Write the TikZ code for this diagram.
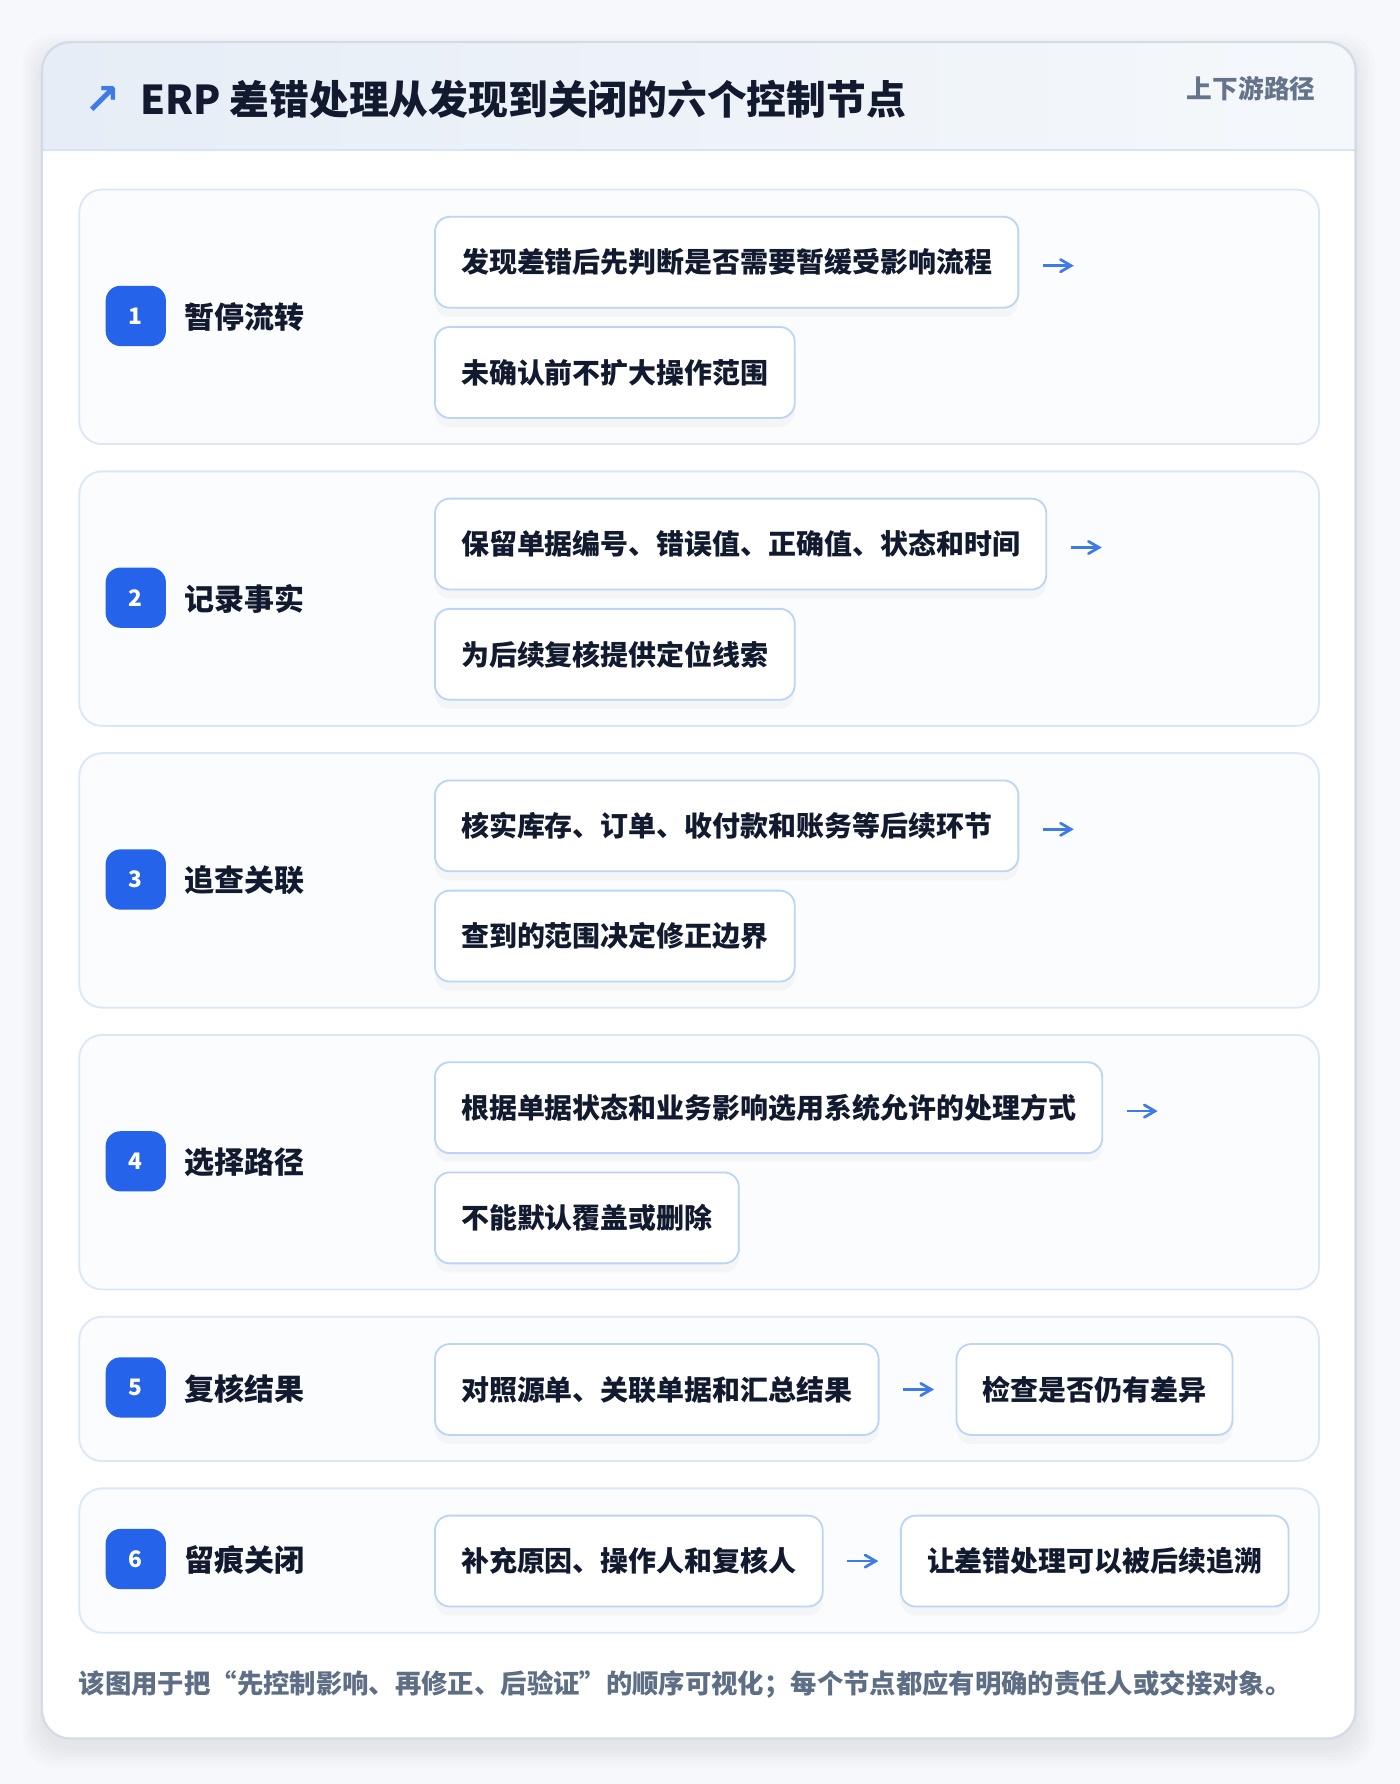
\documentclass[tikz,border=0pt]{standalone}
\usepackage{fontspec}
\setmainfont{Noto Sans CJK SC}
\newfontfamily\symfont{DejaVu Sans}
\usepackage{tikz}
\usetikzlibrary{arrows,positioning,calc,shadows}
\definecolor{pagebg}{HTML}{F6F8FB}
\definecolor{cardline}{HTML}{D3DBE6}
\definecolor{headleft}{HTML}{E6EDF6}
\definecolor{headright}{HTML}{F5F8FB}
\definecolor{headline}{HTML}{D6E4F7}
\definecolor{panelfill}{HTML}{FAFCFE}
\definecolor{panelline}{HTML}{DAE7F8}
\definecolor{boxline}{HTML}{BCD5F4}
\definecolor{badgeblue}{HTML}{2563EB}
\definecolor{arrowblue}{HTML}{3F7BE6}
\definecolor{ink}{HTML}{111A2E}
\definecolor{muted}{HTML}{64748B}
\definecolor{footnote}{HTML}{5E6E85}
\tikzset{
 >=angle 60,
 panel/.style={draw=panelline, fill=panelfill, rounded corners=10pt, line width=0.8pt,
   anchor=north west, minimum width=545.5pt, inner sep=0pt},
 badge/.style={fill=badgeblue, rounded corners=6.5pt, minimum size=26.5pt, inner sep=0pt,
   text=white, font=\bfseries\fontsize{10}{10}\selectfont},
 steplabel/.style={anchor=west, inner sep=0pt, text=ink, font=\bfseries\fontsize{13.2}{16}\selectfont},
 stepbox/.style={draw=boxline, fill=white, rounded corners=6.5pt, line width=0.8pt,
   anchor=north west, minimum height=40pt, inner xsep=11.5pt, inner ysep=0pt,
   text=ink, font=\bfseries\fontsize{12.3}{15}\selectfont,
   drop shadow={opacity=0.05, shadow xshift=0pt, shadow yshift=-4pt}},
 flowarrow/.style={->, draw=arrowblue, line width=1.2pt}
}
\begin{document}
\begin{tikzpicture}[x=0.5pt,y=-0.5pt]
\useasboundingbox (0,0) rectangle (1232,1570);
\fill[pagebg] (0,0) rectangle (1232,1570);

% card with soft shadow
\foreach \s in {2,5,8,11,14,17}
  \fill[black,opacity=0.012,rounded corners=14pt] (37-\s,37-\s+10) rectangle (1193+\s,1530+\s+8);
\path[fill=white,rounded corners=12.5pt] (37,37) rectangle (1193,1530);
\begin{scope}
 \clip[rounded corners=12.5pt] (37,37) rectangle (1193,1530);
 \fill[left color=headleft,right color=headright] (37,37) rectangle (1193,132);
\end{scope}
\draw[headline,line width=1pt] (37,132) -- (1193,132);
\draw[cardline,line width=1pt,rounded corners=12.5pt] (37,37) rectangle (1193,1530);

% header
\path (90,88) node[name=titlemark,text=arrowblue,font=\symfont\bfseries\fontsize{19}{19}\selectfont] {↗};
\path (123,87) node[name=title,anchor=west,inner sep=0pt,text=ink,font=\bfseries\fontsize{17.5}{21}\selectfont] {ERP 差错处理从发现到关闭的六个控制节点};
\path (1158,78) node[name=scope,anchor=east,inner sep=0pt,text=muted,font=\bfseries\fontsize{11.3}{14}\selectfont] {上下游路径};

% step 1
\path (69,166) node[panel,minimum height=112pt,name=p1] {};
\path (119.5,278) node[badge,name=b1] {1};
\path (162,279) node[steplabel,name=l1] {暂停流转};
\path (382,190) node[stepbox,name=r1a] {发现差错后先判断是否需要暂缓受影响流程};
\path (382,287) node[stepbox,name=r1b] {未确认前不扩大操作范围};
\path (r1a.east) ++(21,3) coordinate (r1s) ++(27,0) coordinate (r1e);
\path (r1s) edge[flowarrow] (r1e);

% step 2
\path (69,414) node[panel,minimum height=112pt,name=p2] {};
\path (119.5,526) node[badge,name=b2] {2};
\path (162,527) node[steplabel,name=l2] {记录事实};
\path (382,438) node[stepbox,name=r2a] {保留单据编号、错误值、正确值、状态和时间};
\path (382,535) node[stepbox,name=r2b] {为后续复核提供定位线索};
\path (r2a.east) ++(21,3) coordinate (r2s) ++(27,0) coordinate (r2e);
\path (r2s) edge[flowarrow] (r2e);

% step 3
\path (69,662) node[panel,minimum height=112pt,name=p3] {};
\path (119.5,774) node[badge,name=b3] {3};
\path (162,775) node[steplabel,name=l3] {追查关联};
\path (382,686) node[stepbox,name=r3a] {核实库存、订单、收付款和账务等后续环节};
\path (382,783) node[stepbox,name=r3b] {查到的范围决定修正边界};
\path (r3a.east) ++(21,3) coordinate (r3s) ++(27,0) coordinate (r3e);
\path (r3s) edge[flowarrow] (r3e);

% step 4
\path (69,910) node[panel,minimum height=112pt,name=p4] {};
\path (119.5,1022) node[badge,name=b4] {4};
\path (162,1023) node[steplabel,name=l4] {选择路径};
\path (382,934) node[stepbox,name=r4a] {根据单据状态和业务影响选用系统允许的处理方式};
\path (382,1031) node[stepbox,name=r4b] {不能默认覆盖或删除};
\path (r4a.east) ++(21,3) coordinate (r4s) ++(27,0) coordinate (r4e);
\path (r4s) edge[flowarrow] (r4e);

% step 5
\path (69,1158) node[panel,minimum height=63.5pt,name=p5] {};
\path (119.5,1221) node[badge,name=b5] {5};
\path (162,1222) node[steplabel,name=l5] {复核结果};
\path (382,1182) node[stepbox,name=r5a] {对照源单、关联单据和汇总结果};
\path (841,1182) node[stepbox,name=r5b] {检查是否仍有差异};
\path (r5a) edge[flowarrow,shorten <=10.5pt,shorten >=9.5pt,yshift=-1.5pt] (r5b);

% step 6
\path (69,1309) node[panel,minimum height=63.5pt,name=p6] {};
\path (119.5,1372) node[badge,name=b6] {6};
\path (162,1373) node[steplabel,name=l6] {留痕关闭};
\path (382,1333) node[stepbox,name=r6a] {补充原因、操作人和复核人};
\path (792,1333) node[stepbox,name=r6b] {让差错处理可以被后续追溯};
\path (r6a) edge[flowarrow,shorten <=10.5pt,shorten >=9.5pt,yshift=-1.5pt] (r6b);

% footnote
\path (69,1482) node[name=note,anchor=west,inner sep=0pt,text=footnote,font=\bfseries\fontsize{11.6}{14}\selectfont] {该图用于把“先控制影响、再修正、后验证”的顺序可视化；每个节点都应有明确的责任人或交接对象。};
\end{tikzpicture}
\end{document}
